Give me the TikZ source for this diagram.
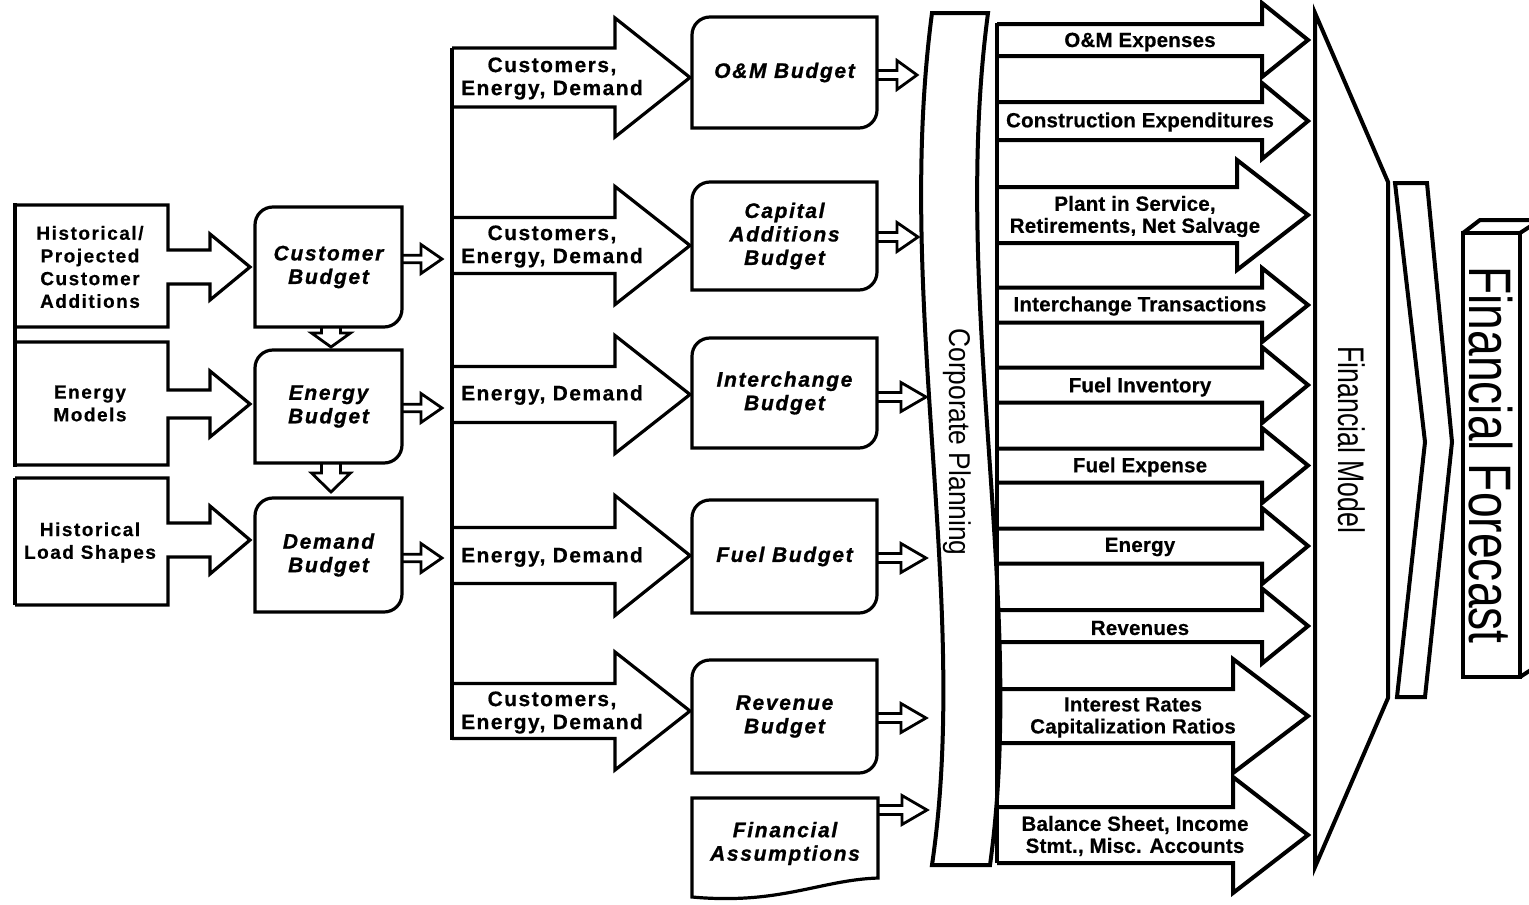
\documentclass[tikz,border=0pt]{standalone}
\usepackage{fontspec}
\setmainfont{Liberation Sans}
\newfontfamily\sourceface[LetterSpace=8,FakeBold=0.5]{Liberation Sans}
\newfontfamily\flowface[LetterSpace=7,FakeBold=0.5]{Liberation Sans}
\newfontfamily\budgetface[LetterSpace=8,FakeBold=1]{Liberation Sans}
\newfontfamily\itemface[LetterSpace=1,FakeBold=0.5]{Liberation Sans}
\usetikzlibrary{calc}
\tikzset{
  outline/.style={draw=black,line width=3.2pt},
  heavyline/.style={draw=black,line width=4pt},
  smallline/.style={draw=black,line width=2.8pt},
  budget/.style={inner sep=0pt,outer sep=0pt,minimum width=147pt,align=center,
    font=\budgetface\bfseries\itshape\fontsize{21}{23.5}\selectfont},
  widebudget/.style={budget,minimum width=185pt},
  flowtext/.style={align=center,inner sep=0pt,font=\flowface\bfseries\fontsize{21}{23}\selectfont},
  sourcetext/.style={align=center,inner sep=0pt,font=\sourceface\bfseries\fontsize{19}{22.7}\selectfont},
  itemtext/.style={align=center,inner sep=0pt,font=\itemface\bfseries\fontsize{20.5}{22}\selectfont},
  sidetitle/.style={rotate=-90,inner sep=0pt},
  pics/hollowarrow/.style n args={4}{code={
    \draw[smallline] (0,-#3) -- (#1,-#3) -- (#1,-#4) -- (#1+#2,0) -- (#1,#4) -- (#1,#3) -- (0,#3);
  }}
}
\newcommand{\cornerr}{18}
\newcommand{\cornerc}{8}
% budget outline: round top left and bottom right corners
\newcommand{\budgetline}[1]{%
  \draw[outline] ($(#1.north west)+(0,\cornerr)$)
    .. controls ($(#1.north west)+(0,\cornerc)$) and ($(#1.north west)+(\cornerc,0)$) .. ($(#1.north west)+(\cornerr,0)$)
    -- (#1.north east) -- ($(#1.south east)-(0,\cornerr)$)
    .. controls ($(#1.south east)-(0,\cornerc)$) and ($(#1.south east)-(\cornerc,0)$) .. ($(#1.south east)-(\cornerr,0)$)
    -- (#1.south west) -- cycle;}
% open block arrow: start x, head base x, tip x, centre y, shaft half, head half
\newcommand{\blockarrow}[7][outline]{%
  \draw[#1] (#2,#5-#6) -- (#3,#5-#6) -- (#3,#5-#7) -- (#4,#5) -- (#3,#5+#7) -- (#3,#5+#6) -- (#2,#5+#6);}
% source box merged with its arrow: top, bottom, centre y, shaft half, head half
\newcommand{\sourcebox}[5]{%
  \draw[outline] (15,#1) -- (168,#1) -- (168,#3-#4) -- (210,#3-#4) -- (210,#3-#5) -- (250,#3)
    -- (210,#3+#5) -- (210,#3+#4) -- (168,#3+#4) -- (168,#2) -- (15,#2);}

\begin{document}
\begin{tikzpicture}[x=1pt,y=-1pt]
  \useasboundingbox (0,0) rectangle (1529,905);

  % source data
  \draw[outline] (15,203) -- (15,467);
  \draw[outline] (15,478) -- (15,605);
  \sourcebox{205}{327}{267}{17}{33}
  \sourcebox{342}{465}{404}{14}{33}
  \sourcebox{478}{605}{540}{17}{34}
  \node[sourcetext] (custadd) at (90,267) {Historical/\\Projected\\Customer\\Additions};
  \node[sourcetext] (enmod) at (90,403.5) {Energy\\Models};
  \node[sourcetext] (loadsh) at (90,542.5) {Historical\\Load Shapes};

  % load forecast budgets
  \node[budget,minimum height=120pt] (custb) at (328.5,267) {Customer\\Budget};
  \node[budget,minimum height=113pt] (enb) at (328.5,406.5) {Energy\\Budget};
  \node[budget,minimum height=114pt] (demb) at (328.5,555) {Demand\\Budget};
  \foreach \b in {custb,enb,demb} {\budgetline{\b}}
  \pic[rotate=-90] at ($(custb.south)+(2.5,0)$) {hollowarrow={6}{14}{9.5}{19.5}};
  \pic[rotate=-90] at ($(enb.south)+(2.5,0)$) {hollowarrow={10}{19}{9.5}{19.5}};
  \pic at ($(custb.east)+(0,-8)$) {hollowarrow={19}{21}{3.7}{14.5}};
  \pic at ($(enb.east)+(0,1.5)$) {hollowarrow={19}{21}{3.7}{14.5}};
  \pic at ($(demb.east)+(0,3)$) {hollowarrow={19}{21}{3.7}{14.5}};

  % forecast feeds
  \draw[outline] (452,48) -- (452,740);
  \blockarrow{452}{615}{690}{77.5}{29.5}{59.5}
  \blockarrow{452}{615}{690}{245.5}{28}{59}
  \blockarrow{452}{615}{690}{394.5}{28}{59}
  \blockarrow{452}{615}{690}{555.5}{28}{60}
  \blockarrow{452}{615}{690}{711}{27.5}{59}
  \node[flowtext] (feedom) at (552,78.5) {Customers,\\Energy, Demand};
  \node[flowtext] (feedcap) at (552,246.5) {Customers,\\Energy, Demand};
  \node[flowtext] (feedint) at (552,395) {Energy, Demand};
  \node[flowtext] (feedfuel) at (552,557) {Energy, Demand};
  \node[flowtext] (feedrev) at (552,712.5) {Customers,\\Energy, Demand};

  % operating budgets
  \node[widebudget,minimum height=111pt] (omb) at (784.5,72.5) {O\&M Budget};
  \node[widebudget,minimum height=108pt] (capb) at (784.5,236) {Capital\\Additions\\Budget};
  \node[widebudget,minimum height=110pt] (intb) at (784.5,393) {Interchange\\Budget};
  \node[widebudget,minimum height=113pt] (fuelb) at (784.5,556.5) {Fuel Budget};
  \node[widebudget,minimum height=113pt] (revb) at (784.5,716.5) {Revenue\\Budget};
  \node[widebudget,minimum width=186pt,minimum height=91pt] (finas) at (785,843.5) {Financial\\Assumptions};
  \foreach \b in {omb,capb,intb,fuelb,revb} {\budgetline{\b}}
  \draw[outline] ($(finas.south west)+(0,8)$) -- (finas.north west) -- (finas.north east)
    -- ($(finas.south east)+(0,-11)$) .. controls ($(finas.south east)+(-58,-9)$) and ($(finas.south west)+(88,16)$)
    .. ($(finas.south west)+(0,8)$) -- cycle;
  \pic at ($(omb.east)+(0,2.5)$) {hollowarrow={20}{20}{4.5}{14.5}};
  \pic at ($(capb.east)+(0,1)$) {hollowarrow={20}{21}{4.5}{14.5}};
  \pic at ($(intb.east)+(0,4)$) {hollowarrow={24}{25}{4.5}{14.5}};
  \pic at ($(fuelb.east)+(0,1.5)$) {hollowarrow={24}{25}{4.5}{14.5}};
  \pic at ($(revb.east)+(0,1.5)$) {hollowarrow={24}{25}{4.5}{14.5}};
  \pic at ($(finas.north east)+(0,12)$) {hollowarrow={24}{25}{4.5}{14.5}};

  % corporate planning
  \draw[heavyline] (932,13) -- (988,13) .. controls (950,300) and (1027,600) .. (990,865)
    -- (932,865) .. controls (971,600) and (894,300) .. (932,13) -- cycle;
  \node[sidetitle,font=\fontsize{30}{30}\selectfont] (corp) at (957,442) {\scalebox{0.88}[1]{Corporate Planning}};

  % model inputs
  \draw[heavyline] (997,23) -- (997,863);
  \blockarrow[heavyline]{997}{1262}{1308}{40}{16}{37}
  \blockarrow[heavyline]{997}{1262}{1308}{121}{19}{38}
  \blockarrow[heavyline]{997}{1237}{1308}{215}{28}{55}
  \blockarrow[heavyline]{997}{1262}{1308}{305}{17.5}{37}
  \blockarrow[heavyline]{997}{1262}{1308}{385}{17.5}{38}
  \blockarrow[heavyline]{997}{1262}{1308}{465.5}{17}{37.5}
  \blockarrow[heavyline]{997}{1262}{1308}{546}{17.5}{38}
  \blockarrow[heavyline]{997}{1262}{1308}{626}{16}{37.5}
  \blockarrow[heavyline]{997}{1233}{1308}{716}{27}{57}
  \blockarrow[heavyline]{997}{1233}{1308}{835}{28}{58}
  \node[itemtext] (omexp) at (1140,42) {O\&M Expenses};
  \node[itemtext] (constr) at (1140,122) {Construction Expenditures};
  \node[itemtext] (plant) at (1135,216.5) {Plant in Service,\\Retirements, Net Salvage};
  \node[itemtext] (intertr) at (1140,306) {Interchange Transactions};
  \node[itemtext] (fuelinv) at (1140,387) {Fuel Inventory};
  \node[itemtext] (fuelexp) at (1140,467) {Fuel Expense};
  \node[itemtext] (energy) at (1140,547) {Energy};
  \node[itemtext] (revs) at (1140,628) {Revenues};
  \node[itemtext] (rates) at (1133,717.5) {Interest Rates\\Capitalization Ratios};
  \node[itemtext] (balance) at (1135,836) {Balance Sheet, Income\\Stmt., Misc. Accounts};

  % financial model and forecast
  \draw[heavyline] (1315,13) -- (1388,182) -- (1388,698) -- (1315,867) -- cycle;
  \node[sidetitle,font=\fontsize{37}{37}\selectfont] (finmod) at (1352,440) {\scalebox{0.72}[1]{Financial Model}};
  \draw[heavyline] (1395,183) -- (1427,183) -- (1452,442) -- (1425,697) -- (1397,697) -- (1425,442) -- cycle;
  \draw[heavyline] (1463,233) rectangle (1520,677);
  \draw[heavyline] (1463,233) -- (1480,220) -- (1540,220) -- (1520,233);
  \draw[heavyline] (1540,220) -- (1540,664) -- (1520,677);
  \node[sidetitle,font=\fontsize{60}{60}\selectfont] (finfc) at (1491,455) {\scalebox{0.77}[1]{Financial Forecast}};
\end{tikzpicture}
\end{document}
